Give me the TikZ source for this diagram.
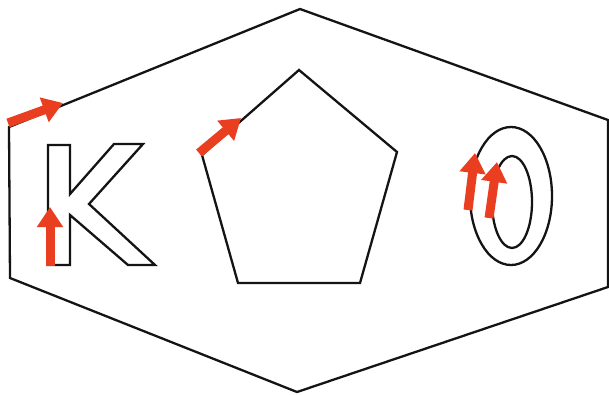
\documentclass[tikz,border=0pt]{standalone}
\usetikzlibrary{arrows.meta}
\definecolor{mkred}{RGB}{233,62,32}

\begin{document}
\begin{tikzpicture}[
  x=1pt, y=-1pt,
  outline/.style={draw=black!92, line width=2.3pt, line join=miter},
  marker/.style={draw=mkred, line width=9pt, -{Triangle[length=20pt, width=25pt]}},
]
\fill[white] (0,0) rectangle (609,394);
\useasboundingbox (0,0) rectangle (609,394);

% ---- outer hexagon ----
\coordinate (hexUL) at (9,127);
\coordinate (hexT)  at (300,9);
\coordinate (hexUR) at (608,120);
\coordinate (hexLR) at (608,287);
\coordinate (hexB)  at (297,392);
\coordinate (hexLL) at (10,278);
\draw[outline] (hexUL) -- (hexT) -- (hexUR) -- (hexLR) -- (hexB) -- (hexLL) -- cycle;

% ---- letter K ----
\draw[outline] (48,145) -- (70,145) -- (70,194) -- (114,144) -- (143,144)
  -- (89,204) -- (155,265) -- (128,265) -- (70,215) -- (70,265) -- (48,265) -- cycle;

% ---- pentagon ----
\coordinate (penT)  at (299,70);
\coordinate (penR)  at (397,152);
\coordinate (penBR) at (360,283);
\coordinate (penBL) at (238,283);
\coordinate (penL)  at (202,155);
\draw[outline] (penT) -- (penR) -- (penBR) -- (penBL) -- (penL) -- cycle;

% ---- letter O ----
\draw[outline] (511,196) ellipse [x radius=41, y radius=69];
\draw[outline] (512,202) ellipse [x radius=20, y radius=46];

% ---- red markers ----
\coordinate (hexTail) at (8,123);
\coordinate (hexTip)  at (63,103);
\draw[marker] (hexTail) -- (hexTip);

\coordinate (kTail) at (50,266);
\coordinate (kTip)  at (50,207);
\draw[marker] (kTail) -- (kTip);

\coordinate (penTail) at (199,153);
\coordinate (penTip)  at (241,118);
\draw[marker] (penTail) -- (penTip);

\coordinate (oOutTail) at (468,210);
\coordinate (oOutTip)  at (475,153);
\draw[marker] (oOutTail) -- (oOutTip);

\coordinate (oInTail) at (489,218);
\coordinate (oInTip)  at (497,162);
\draw[marker] (oInTail) -- (oInTip);

\end{tikzpicture}
\end{document}
